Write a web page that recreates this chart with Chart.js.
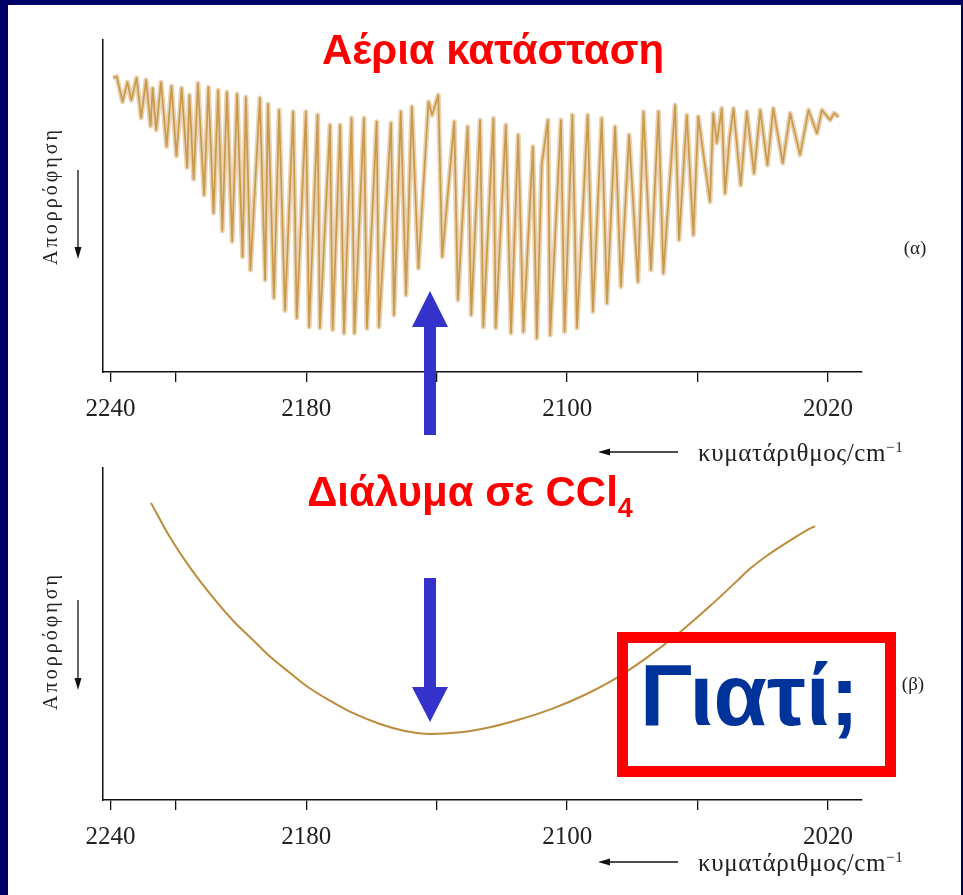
<!DOCTYPE html>
<html>
<head>
<meta charset="utf-8">
<script src="https://cdn.jsdelivr.net/npm/chart.js@4.4.0/dist/chart.umd.min.js"></script>
<style>
  html, body { margin: 0; padding: 0; }
  body { width: 963px; height: 895px; background: #000066; position: relative; overflow: hidden; }
  #page { position: absolute; left: 8px; top: 5px; right: 2px; bottom: 0; background: #fff; }
  canvas { position: absolute; left: 0; }
  #gasChart { top: 0; }
  #solChart { top: 430px; }
  .title { position: absolute; transform: translate(-50%, -50%); white-space: nowrap;
           font: bold 42px "Liberation Sans", Arial, sans-serif; color: #ff0000; line-height: 1; }
  .title sub { font-size: 27px; vertical-align: -11px; line-height: 0; }
  .ylab { position: absolute; transform: translate(-50%, -50%) rotate(-90deg); white-space: nowrap;
          font: 20px "Liberation Serif", "DejaVu Serif", serif; color: #222; letter-spacing: 3px; line-height: 1; }
  .tag { position: absolute; transform: translate(-50%, -50%); font: 19px "Liberation Serif", serif; color: #222; line-height: 1; }
  .xlab { position: absolute; transform: translateY(-50%); white-space: nowrap;
          font: 25px "Liberation Serif", serif; color: #222; line-height: 1; letter-spacing: 0.6px; }
  .xlab sup { font-size: 15px; vertical-align: 9px; line-height: 0; }
  #why { position: absolute; left: 617px; top: 632px; width: 279px; height: 145px; box-sizing: border-box;
         border: 11px solid #ff0000; display: flex; align-items: center; justify-content: center;
         padding: 0 14px 20px 0;
         font: bold 87px "Liberation Sans", Arial, sans-serif; color: #003399; line-height: 1; }
  svg { position: absolute; left: 0; top: 0; }
</style>
</head>
<body>
<div id="page"></div>
<canvas id="gasChart" width="963" height="470"></canvas>
<canvas id="solChart" width="963" height="465"></canvas>

<div class="title" style="left:493px; top:50px;">Αέρια κατάσταση</div>
<div class="title" style="left:470px; top:492px;">Διάλυμα σε CCl<sub>4</sub></div>

<div class="ylab" style="left:50px; top:196px;">Απορρόφηση</div>
<div class="ylab" style="left:50px; top:641px;">Απορρόφηση</div>
<div class="tag" style="left:915px; top:247px;">(α)</div>
<div class="tag" style="left:913px; top:683px;">(β)</div>
<div class="xlab" style="left:698px; top:452px;">κυματάριθμος/cm<sup>−1</sup></div>
<div class="xlab" style="left:698px; top:862px;">κυματάριθμος/cm<sup>−1</sup></div>

<div id="why">Γιατί;</div>

<svg width="963" height="895">
  <!-- axis direction arrows -->
  <line x1="78" y1="170" x2="78" y2="249" stroke="#111" stroke-width="1.3"/>
  <polygon points="74.5,247 81.5,247 78,259" fill="#111"/>
  <line x1="78" y1="600" x2="78" y2="680" stroke="#111" stroke-width="1.3"/>
  <polygon points="74.5,678 81.5,678 78,690" fill="#111"/>
  <line x1="609" y1="452" x2="678" y2="452" stroke="#111" stroke-width="1.3"/>
  <polygon points="598,452 610,448.5 610,455.5" fill="#111"/>
  <line x1="609" y1="862" x2="678" y2="862" stroke="#111" stroke-width="1.3"/>
  <polygon points="598,862 610,858.5 610,865.5" fill="#111"/>
  <!-- blue pointers -->
  <polygon points="424,435 436,435 436,327 448,327 430,291 412,327 424,327" fill="#3333cc"/>
  <polygon points="424,578 436,578 436,687 448,687 430,722 412,687 424,687" fill="#3333cc"/>
</svg>

<script>
// Gas-phase spectrum: alternating line tops and line minima, read left to right
var gasWavenumber = [
  2239.2, 2238.1, 2236.3, 2234.8, 2233.6, 2232.0, 2230.6, 2229.1, 2227.7, 2227.1,
  2226.0, 2224.5, 2222.8, 2221.3, 2219.8, 2218.2, 2216.5, 2215.8, 2214.5, 2213.2,
  2211.3, 2210.0, 2208.4, 2207.0, 2205.7, 2204.3, 2202.7, 2201.2, 2199.5, 2198.5,
  2197.1, 2194.2, 2192.6, 2191.7, 2189.9, 2188.3, 2186.5, 2184.0, 2182.9, 2180.1,
  2179.1, 2176.5, 2175.8, 2172.7, 2171.9, 2169.6, 2168.4, 2166.1, 2165.2, 2162.3,
  2161.4, 2158.4, 2157.7, 2154.0, 2153.1, 2151.0, 2149.4, 2147.6, 2145.6, 2142.5,
  2141.4, 2139.5, 2138.3, 2134.6, 2133.5, 2130.5, 2129.4, 2126.7, 2125.7, 2122.6,
  2121.9, 2118.8, 2117.2, 2115.0, 2113.4, 2110.5, 2109.3, 2107.8, 2105.9, 2105.2,
  2101.9, 2100.8, 2098.4, 2097.0, 2093.7, 2092.1, 2089.4, 2087.8, 2085.3, 2083.5,
  2081.0, 2078.3, 2076.6, 2074.3, 2072.0, 2070.5, 2066.9, 2065.7, 2063.3, 2061.3,
  2059.8, 2056.2, 2055.2, 2054.1, 2052.6, 2051.6, 2050.2, 2049.0, 2046.8, 2044.9,
  2042.7, 2040.8, 2038.6, 2036.8, 2033.9, 2031.6, 2028.6, 2026.0, 2023.4, 2021.9,
  2019.4, 2018.1, 2016.8
];
var gasSignal = [
  88.6, 89.0, 81.4, 87.3, 81.9, 88.6, 76.5, 88.0, 74.1, 85.5,
  72.9, 87.3, 67.9, 86.1, 65.1, 85.5, 61.6, 83.4, 58.1, 87.0,
  53.3, 85.8, 47.9, 84.9, 42.5, 84.3, 39.3, 83.7, 34.7, 82.8,
  30.7, 82.5, 27.7, 80.7, 22.3, 78.9, 18.5, 78.4, 16.3, 78.4,
  13.6, 77.4, 13.3, 74.4, 12.7, 74.4, 11.7, 76.5, 11.7, 76.5,
  13.1, 75.4, 13.6, 75.0, 17.2, 78.4, 23.2, 79.9, 31.3, 81.4,
  77.4, 83.4, 34.7, 75.4, 21.7, 73.9, 17.2, 75.9, 13.6, 76.4,
  13.3, 74.4, 11.7, 71.4, 12.1, 67.9, 10.2, 62.3, 75.9, 11.1,
  75.9, 12.1, 77.4, 13.3, 77.4, 18.2, 76.4, 20.7, 73.9, 25.7,
  71.4, 27.2, 78.4, 30.7, 78.4, 29.7, 80.4, 39.8, 77.4, 41.3,
  76.9, 51.3, 77.9, 69.0, 79.4, 53.8, 70.5, 79.4, 56.3, 78.4,
  59.8, 78.9, 62.3, 79.4, 62.9, 77.9, 65.4, 78.9, 71.9, 78.9,
  75.9, 78.0, 76.8
];

// CCl4 solution: single broad band
var solWavenumber = [
  2227.6, 2221.8, 2215.6, 2208.9, 2202.4, 2195.7, 2191.1, 2185.0, 2179.7, 2172.7,
  2166.6, 2157.4, 2149.7, 2142.0, 2132.8, 2123.3, 2114.4, 2104.3, 2094.5, 2085.6,
  2076.1, 2065.7, 2056.2, 2047.9, 2043.9, 2039.3, 2031.6, 2027.0, 2024.0
];
var solSignal = [
  89.5, 79.2, 70.0, 61.4, 54.0, 47.6, 43.2, 38.3, 34.2, 29.9,
  26.6, 22.9, 20.8, 19.9, 20.4, 22.0, 24.3, 27.6, 31.7, 36.3,
  42.5, 50.3, 58.4, 66.0, 69.7, 73.2, 78.2, 81.0, 82.5
];

// tick marks on the wavenumber axis, and the ones that carry a number
var tickValues = [2240, 2220, 2180, 2140, 2100, 2060, 2020];
var tickLabels = [2240, 2180, 2100, 2020];

var axisMin = 2009.6, axisMax = 2242.3;
var inkColor = '#111';

function toPoints(xs, ys) {
    return xs.map(function (x, i) { return { x: x, y: ys[i] }; });
}

function buildSpectrum(canvasId, datasets, padTop, padBottom) {
    var ctx = document.getElementById(canvasId);
    return new Chart(ctx, {
        type: 'line',
        data: { datasets: datasets },
        options: {
            responsive: false,
            animation: false,
            devicePixelRatio: 1,
            layout: { padding: { left: 103, right: 101, top: padTop, bottom: padBottom } },
            plugins: { legend: { display: false }, tooltip: { enabled: false } },
            elements: { point: { radius: 0 } },
            scales: {
                x: {
                    type: 'linear',
                    reverse: true,
                    min: axisMin,
                    max: axisMax,
                    afterBuildTicks: function (scale) {
                        scale.ticks = tickValues.map(function (v) { return { value: v }; });
                    },
                    afterFit: function (scale) { scale.height = 60; },
                    border: { display: true, color: inkColor, width: 1.5 },
                    grid: { drawOnChartArea: false, drawTicks: true, tickLength: 10, color: inkColor, lineWidth: 1.3 },
                    ticks: {
                        autoSkip: false,
                        maxRotation: 0,
                        padding: 12,
                        color: '#222',
                        font: { family: '"Liberation Serif", serif', size: 25 },
                        callback: function (v) { return tickLabels.indexOf(v) >= 0 ? String(v) : ''; }
                    }
                },
                y: {
                    min: 0,
                    max: 100,
                    afterFit: function (scale) { scale.width = 0; },
                    border: { display: true, color: inkColor, width: 1.5 },
                    grid: { display: false },
                    ticks: { display: false }
                }
            }
        }
    });
}

var gasPoints = toPoints(gasWavenumber, gasSignal);
buildSpectrum('gasChart', [
    { data: gasPoints, borderColor: 'rgba(215,175,118,0.55)', borderWidth: 5, tension: 0, borderJoinStyle: 'round' },
    { data: gasPoints, borderColor: '#b98118', borderWidth: 1.7, tension: 0, borderJoinStyle: 'round' }
], 40, 38);

buildSpectrum('solChart', [
    { data: toPoints(solWavenumber, solSignal), borderColor: '#bb8c3c', borderWidth: 2, cubicInterpolationMode: 'monotone' }
], 38, 35);
</script>
</body>
</html>
